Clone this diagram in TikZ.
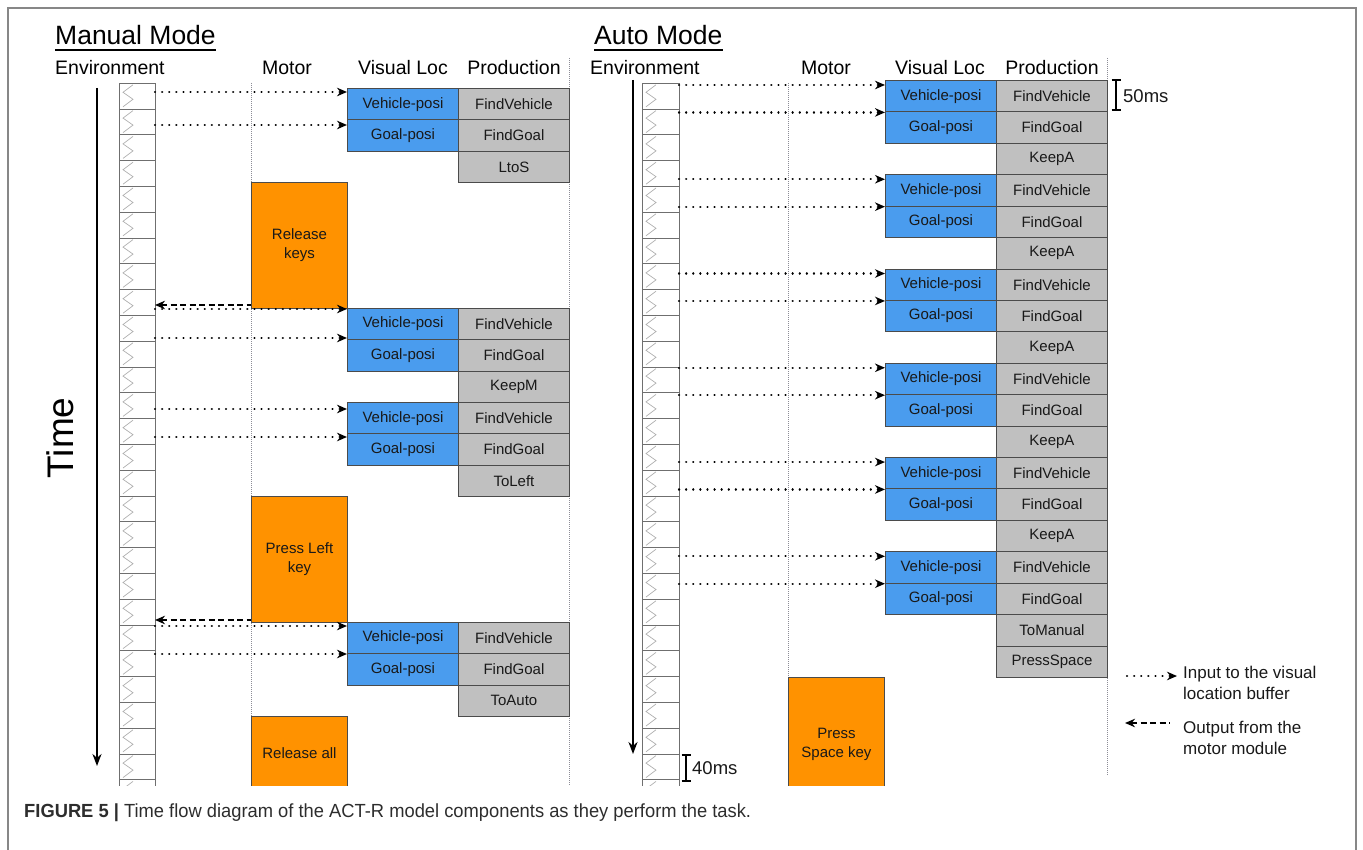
\documentclass[tikz,border=0pt]{standalone}
\usepackage{fontspec}
\setmainfont{Liberation Sans}
\usepackage{graphicx}
\usetikzlibrary{arrows.meta}
\definecolor{vblue}{RGB}{74,156,238}
\definecolor{pgray}{RGB}{192,192,192}
\definecolor{morange}{RGB}{255,146,0}
\definecolor{bord}{RGB}{75,75,75}
\definecolor{txt}{RGB}{25,25,25}
\definecolor{framegray}{RGB}{135,135,135}
\definecolor{zzgray}{RGB}{175,175,175}
\definecolor{colgray}{RGB}{140,140,150}
\definecolor{captxt}{RGB}{45,45,45}
\begin{document}
\begin{tikzpicture}[x=1pt,y=-1pt,
  box/.style={draw=bord, line width=0.9pt, minimum width=111pt, minimum height=31.42pt, inner sep=0pt, anchor=north west, text=txt, font=\fontsize{15}{18}\selectfont},
  vis/.style={box, fill=vblue},
  prod/.style={box, fill=pgray},
  motbox/.style={draw=bord, line width=0.9pt, fill=morange, minimum width=96pt, inner sep=0pt, anchor=north west, align=center, text=txt, font=\fontsize{15}{19}\selectfont},
  head/.style={font=\fontsize{19.5}{22}\selectfont, inner sep=0pt, anchor=base},
  titlet/.style={font=\fontsize{26.5}{30}\selectfont, inner sep=0pt, anchor=base west},
  inarr/.style={line width=2.3pt, line cap=round, dash pattern=on 0.1pt off 7pt, -{Stealth[length=10pt,width=8.5pt]}},
  outarr/.style={line width=1.9pt, dash pattern=on 6pt off 3.5pt, {Stealth[length=10pt,width=8.5pt]}-},
  colline/.style={colgray, line width=0.7pt, dash pattern=on 1pt off 1pt},
  envcell/.style={draw=bord!80, line width=0.9pt},
  zz/.style={zzgray, line width=0.7pt},
  timearr/.style={line width=2pt, -{Stealth[length=12pt,width=9pt]}},
  ibar/.style={line width=1.8pt},
  lbl/.style={font=\fontsize{18.5}{21}\selectfont, inner sep=0pt, anchor=west, text=txt},
  leg/.style={font=\fontsize{17}{21}\selectfont, inner sep=0pt, anchor=west, align=left, text=txt}
]
\useasboundingbox (0,0) rectangle (1363,850);
% frame
\draw[framegray, line width=2pt] (7.5,852) -- (7.5,8) -- (1356,8) -- (1356,852);

% titles
\node[titlet] (tman) at (55,45) {Manual Mode};
\draw[line width=1.5pt] ([yshift=-5pt]tman.base west) -- ([yshift=-5pt]tman.base east);
\node[titlet] (tauto) at (594,45) {Auto Mode};
\draw[line width=1.5pt] ([yshift=-5pt]tauto.base west) -- ([yshift=-5pt]tauto.base east);

% headings
\node[head, anchor=base west] (henvL) at (55,75) {Environment};
\node[head] (hmotL) at (287,75) {Motor};
\node[head] (hvisL) at (403,75) {Visual Loc};
\node[head] (hprodL) at (514,75) {Production};
\node[head, anchor=base west] (henvR) at (590,75) {Environment};
\node[head] (hmotR) at (826,75) {Motor};
\node[head] (hvisR) at (940,75) {Visual Loc};
\node[head] (hprodR) at (1052,75) {Production};

% time label
\node[rotate=90, font=\fontsize{37}{40}\selectfont, inner sep=0pt] (time) at (60,438) {Time};

\begin{scope}
\clip (0,0) rectangle (1363,785);
% column guide lines
\draw[colline] (251,83) -- (251,785);
\draw[colline] (569,58) -- (569,785);
\draw[colline] (788,83) -- (788,677);
\draw[colline] (1107,58) -- (1107,776);

% environment columns
\foreach \xx/\ww in {119/36, 642/37} {
  \foreach \i in {0,...,27} {
    \pgfmathsetmacro{\yy}{83.3+25.8*\i}
    \draw[zz] (\xx+14,\yy+1.5) -- ++(-10,7.5) -- ++(10,7) -- ++(-10,7.5);
    \draw[envcell] (\xx,\yy) rectangle ++(\ww,25.8);
  }
}

% ---------- Manual mode ----------
\foreach \r/\t in {0/Vehicle-posi,1/Goal-posi,7/Vehicle-posi,8/Goal-posi,10/Vehicle-posi,11/Goal-posi,17/Vehicle-posi,18/Goal-posi} {
  \node[vis] (Lv\r) at (347,88+31.4*\r) {\t};
}
\foreach \r/\t in {0/FindVehicle,1/FindGoal,2/LtoS,7/FindVehicle,8/FindGoal,9/KeepM,10/FindVehicle,11/FindGoal,12/ToLeft,17/FindVehicle,18/FindGoal,19/ToAuto} {
  \node[prod] (Lp\r) at (458,88+31.4*\r) {\t};
}
\node[motbox, minimum height=125.6pt] (Lm1) at (251,182.2) {Release\\keys};
\node[motbox, minimum height=125.6pt] (Lm2) at (251,496.2) {Press Left\\key};
\node[motbox, minimum height=74pt] (Lm3) at (251,716) {Release all};

\foreach \r/\yy in {0/92,1/125,7/309,8/338,10/409,11/437,17/626,18/654} {
  \coordinate (La\r) at (155,\yy);
  \draw[inarr] (La\r) -- (La\r -| Lv\r.west);
}
\coordinate (Lo1) at (Lm1.south west);
\coordinate (Le1) at (155,305);
\draw[outarr] (Le1) -- (Le1 -| Lo1);
\coordinate (Lo2) at (Lm2.south west);
\coordinate (Le2) at (155,620);
\draw[outarr] (Le2) -- (Le2 -| Lo2);

% ---------- Auto mode ----------
\foreach \g in {0,...,5} {
  \pgfmathtruncatemacro{\ra}{3*\g}
  \pgfmathtruncatemacro{\rb}{3*\g+1}
  \node[vis] (Rv\ra) at (885,80+31.42*\ra) {Vehicle-posi};
  \node[vis] (Rv\rb) at (885,80+31.42*\rb) {Goal-posi};
  \node[prod] (Rp\ra) at (996,80+31.42*\ra) {FindVehicle};
  \node[prod] (Rp\rb) at (996,80+31.42*\rb) {FindGoal};
  \coordinate (Ra\ra) at (679,80+31.42*\ra+5);
  \coordinate (Ra\rb) at (679,80+31.42*\rb+1);
  \draw[inarr] (Ra\ra) -- (Ra\ra -| Rv\ra.west);
  \draw[inarr] (Ra\rb) -- (Ra\rb -| Rv\rb.west);
}
\foreach \r in {2,5,8,11,14} {
  \node[prod] (Rp\r) at (996,80+31.42*\r) {KeepA};
}
\node[prod] (Rp17) at (996,80+31.42*17) {ToManual};
\node[prod] (Rp18) at (996,80+31.42*18) {PressSpace};
\node[motbox, minimum height=134pt] (Rm1) at (788,677) {Press\\Space key};
\end{scope}

% time arrows
\coordinate (tl0) at (97,88);
\coordinate (tl1) at (97,766);
\draw[timearr] (tl0) -- (tl1);
\coordinate (tr0) at (633,80);
\coordinate (tr1) at (633,754);
\draw[timearr] (tr0) -- (tr1);

% 50ms marker
\coordinate (m50a) at (1116,80);
\coordinate (m50b) at (1116,110);
\draw[ibar] (m50a) -- (m50b);
\draw[ibar] ([xshift=-4.5pt]m50a) -- ([xshift=4.5pt]m50a);
\draw[ibar] ([xshift=-4.5pt]m50b) -- ([xshift=4.5pt]m50b);
\node[lbl] (l50) at (1123,96) {50ms};

% 40ms marker
\coordinate (m40a) at (686,755);
\coordinate (m40b) at (686,781);
\draw[ibar] (m40a) -- (m40b);
\draw[ibar] ([xshift=-4.5pt]m40a) -- ([xshift=4.5pt]m40a);
\draw[ibar] ([xshift=-4.5pt]m40b) -- ([xshift=4.5pt]m40b);
\node[lbl] (l40) at (692,768) {40ms};

% legend
\coordinate (lg1a) at (1127,676);
\coordinate (lg1b) at (1177,676);
\draw[inarr] (lg1a) -- (lg1b);
\node[leg] (lgt1) at (1183,683) {Input to the visual\\location buffer};
\coordinate (lg2a) at (1125,723);
\coordinate (lg2b) at (1170,723);
\draw[outarr] (lg2a) -- (lg2b);
\node[leg] (lgt2) at (1183,738) {Output from the\\motor module};

% caption
\node[anchor=west, inner sep=0pt, text=captxt, font=\fontsize{19}{22}\selectfont] (cap) at (24,813)
  {\scalebox{0.965}[1]{\textbf{FIGURE 5 |} Time flow diagram of the ACT-R model components as they perform the task.}};
\end{tikzpicture}
\end{document}
